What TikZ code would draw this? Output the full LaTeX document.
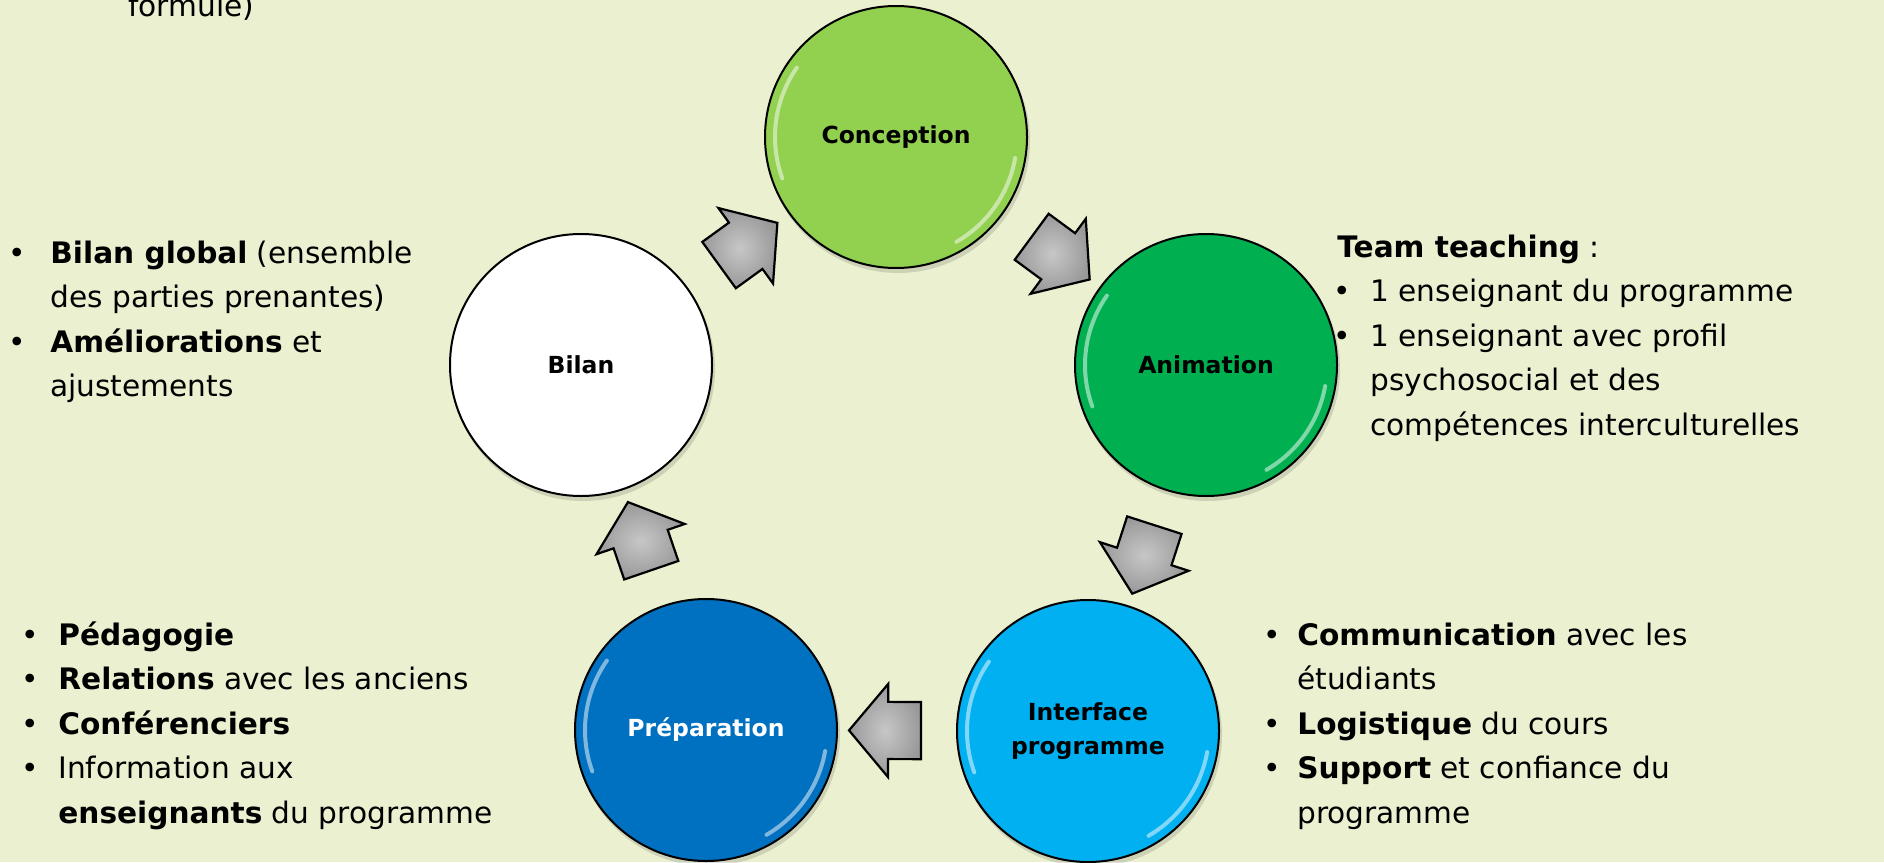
\documentclass[tikz,border=0pt]{standalone}
\usepackage{fontspec}
\setmainfont{DejaVu Sans}
\usetikzlibrary{shapes.arrows}
\definecolor{bg}{RGB}{234,240,208}
\definecolor{cgreen}{RGB}{146,208,80}
\definecolor{dgreen}{RGB}{0,176,80}
\definecolor{cyanb}{RGB}{0,176,240}
\definecolor{blueb}{RGB}{0,112,192}
\newcommand{\bul}[1]{\makebox[#1][l]{•}}
\begin{document}
\begin{tikzpicture}[x=0.5pt,y=-0.5pt,
  stage/.style={circle, draw=black, line width=1pt, minimum size=131pt, inner sep=0pt,
    font=\fontsize{11.75}{17}\selectfont\bfseries, align=center},
  flowarrow/.style={single arrow, draw=black, line width=1.1pt, inner color=black!22, outer color=black!40,
    minimum height=36pt, inner xsep=0pt, inner ysep=13.75pt, single arrow head extend=9pt,
    single arrow tip angle=100, sloped, allow upside down},
  notes/.style={anchor=base west, inner sep=0pt, font=\fontsize{14.8}{22.25}\selectfont},
  gloss/.style={white, opacity=0.5, line width=2pt, line cap=round}
]
\fill[bg] (0,0) rectangle (1884,862);
\useasboundingbox (0,0) rectangle (1884,862);

% soft shadows
\foreach \p in {(898,141),(1208,369),(1090,735),(708,734),(583,369)}
  \fill[black, opacity=0.12] \p circle[radius=132];

% stages
\node[stage, fill=cgreen] (conc) at (896,137) {Conception};
\node[stage, fill=dgreen] (anim) at (1206,365) {Animation};
\node[stage, fill=cyanb] (inter) at (1088,731) {Interface\\programme};
\node[stage, fill=blueb, text=white] (prep) at (706,730) {Préparation};
\node[stage, fill=white] (bilan) at (581,365) {Bilan};

% gloss highlights
\foreach \n in {conc,anim,inter,prep} {
  \draw[gloss] ([shift={(160:121)}]\n.center) arc[start angle=160, end angle=215, radius=121];
  \draw[gloss] ([shift={(10:121)}]\n.center) arc[start angle=10, end angle=60, radius=121];
}

% cycle arrows
\path (bilan) -- node[flowarrow] (a1) {} (conc);
\path (conc) -- node[flowarrow] (a2) {} (anim);
\path (anim) -- node[flowarrow] (a3) {} (inter);
\path (inter) -- node[flowarrow] (a4) {} (prep);
\path (prep) -- node[flowarrow] (a5) {} (bilan);

% notes
\node[notes] (nprev) at (128,17) {formule)};

\node[notes] (nbilan) at (8,263) {\begin{tabular}[t]{@{}l@{}l@{}}
\bul{21pt} & \textbf{Bilan global} (ensemble\\
 & des parties prenantes)\\
\bul{21pt} & \textbf{Améliorations} et\\
 & ajustements
\end{tabular}};

\node[notes] (nanim) at (1333,257) {\begin{tabular}[t]{@{}l@{}l@{}}
\multicolumn{2}{@{}l@{}}{\hspace{2pt}\textbf{Team teaching} :}\\
\bul{18.5pt} & 1 enseignant du programme\\
\bul{18.5pt} & 1 enseignant avec profil\\
 & psychosocial et des\\
 & compétences interculturelles
\end{tabular}};

\node[notes] (nprep) at (21,645) {\begin{tabular}[t]{@{}l@{}l@{}}
\bul{18.5pt} & \textbf{Pédagogie}\\
\bul{18.5pt} & \textbf{Relations} avec les anciens\\
\bul{18.5pt} & \textbf{Conférenciers}\\
\bul{18.5pt} & Information aux\\
 & \textbf{enseignants} du programme
\end{tabular}};

\node[notes] (ninter) at (1263,645) {\begin{tabular}[t]{@{}l@{}l@{}}
\bul{17pt} & \textbf{Communication} avec les\\
 & étudiants\\
\bul{17pt} & \textbf{Logistique} du cours\\
\bul{17pt} & \textbf{Support} et confiance du\\
 & programme
\end{tabular}};
\end{tikzpicture}
\end{document}
